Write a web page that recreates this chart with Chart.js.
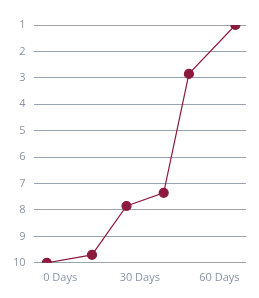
<!DOCTYPE html>
<html>
<head>
<meta charset="utf-8">
<script src="https://cdn.jsdelivr.net/npm/chart.js@4"></script>
<style>
  html, body { margin: 0; padding: 0; background: #fff; }
  #wrap { width: 259px; height: 298px; }
</style>
</head>
<body>
<div id="wrap"><canvas id="rankChart"></canvas></div>
<script>
// days on x, rank on y (1 = top)
const days = [-5, 12, 25, 39, 48.5, 66];
const ranks = [10, 9.7, 7.85, 7.35, 2.85, 1];
const dayTicks = [0, 30, 60];

const lineColor = "#8b1a3c";
const textColor = "#8a95a7";

Chart.defaults.font.family = "'Open Sans', sans-serif";
Chart.defaults.font.size = 11;
Chart.defaults.color = textColor;

new Chart(document.getElementById("rankChart"), {
  type: "line",
  data: {
    datasets: [{
      data: days.map((d, i) => ({ x: d, y: ranks[i] })),
      borderColor: lineColor,
      backgroundColor: lineColor,
      borderWidth: 1.2,
      pointRadius: 4.5,
      pointHoverRadius: 4.5,
      tension: 0
    }]
  },
  options: {
    responsive: true,
    maintainAspectRatio: false,
    animation: false,
    layout: { padding: { top: 25, right: 13, left: 5, bottom: 14 } },
    plugins: { legend: { display: false }, tooltip: { enabled: false } },
    scales: {
      x: {
        type: "linear",
        min: -10,
        max: 70,
        afterBuildTicks: axis => { axis.ticks = dayTicks.map(v => ({ value: v })); },
        ticks: { callback: v => v + " Days", maxRotation: 0, padding: 0 },
        grid: { display: false },
        border: { display: false }
      },
      y: {
        reverse: true,
        min: 1,
        max: 10,
        ticks: { stepSize: 1, padding: 8 },
        grid: { color: "#9aa4b0", drawTicks: false, lineWidth: 1 },
        border: { display: false }
      }
    }
  }
});
</script>
</body>
</html>
